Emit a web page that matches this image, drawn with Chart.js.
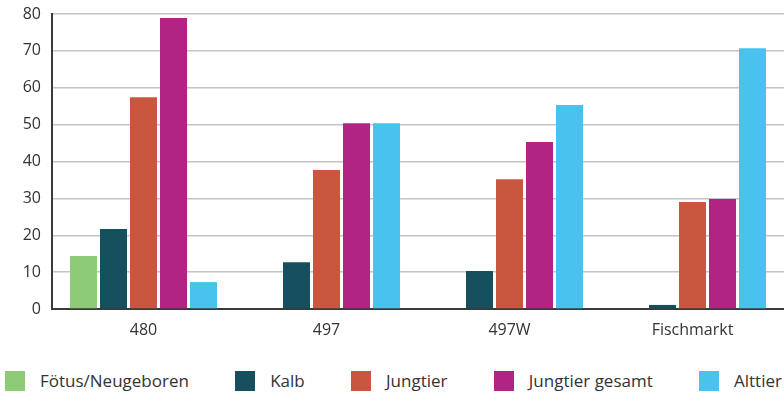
<!DOCTYPE html>
<html>
<head>
<meta charset="utf-8">
<script src="https://cdn.jsdelivr.net/npm/chart.js@4.4.1/dist/chart.umd.min.js"></script>
<style>
  html, body { margin: 0; padding: 0; background: #ffffff; }
  #wrap { position: relative; width: 784px; height: 394px; }
  #chart { position: absolute; left: 0; top: 0; }
  #legend {
    position: absolute; left: 5px; right: 2px; top: 369px;
    display: flex; justify-content: space-between; align-items: center;
    font-family: "Open Sans", sans-serif; font-size: 17px; color: #333;
  }
  .item { display: flex; align-items: center; }
  .box { width: 20px; height: 20px; margin-right: 15px; }
</style>
</head>
<body>
<div id="wrap">
  <canvas id="chart" width="784" height="345"></canvas>
  <div id="legend"></div>
</div>
<script>
const categories = ["480", "497", "497W", "Fischmarkt"];
const seriesNames = ["Fötus/Neugeboren", "Kalb", "Jungtier", "Jungtier gesamt", "Alttier"];
const foetus = [14.4, 0.2, 0.2, 0.2];
const kalb = [21.7, 12.7, 10.3, 1.1];
const jungtier = [57.4, 37.7, 35.2, 29.0];
const jungtierGesamt = [78.9, 50.4, 45.3, 29.8];
const alttier = [7.3, 50.4, 55.3, 70.7];
const yTicks = [0, 10, 20, 30, 40, 50, 60, 70, 80];
const colors = ["#8dcb76", "#16505e", "#c9573f", "#b12484", "#4ac2ee"];

const seriesValues = [foetus, kalb, jungtier, jungtierGesamt, alttier];

const chart = new Chart(document.getElementById("chart"), {
  type: "bar",
  data: {
    labels: categories,
    datasets: seriesNames.map((name, i) => ({
      label: name,
      data: seriesValues[i],
      backgroundColor: colors[i],
      borderWidth: 0,
      categoryPercentage: 0.82,
      barPercentage: 0.9
    }))
  },
  options: {
    responsive: false,
    animation: false,
    layout: { padding: { top: 14, right: 0, bottom: 0, left: 0 } },
    plugins: { legend: { display: false }, tooltip: { enabled: false } },
    scales: {
      x: {
        grid: { display: false },
        border: { display: true, color: "#3a3a3a", width: 2 },
        ticks: {
          color: "#333",
          font: { family: "Open Sans", size: 16 },
          padding: 4
        },
        afterFit(scale) {
          scale.height = 36;
          scale.paddingLeft = 0;
          scale.paddingRight = 0;
        }
      },
      y: {
        min: 0, max: 80,
        afterBuildTicks(scale) { scale.ticks = yTicks.map(v => ({ value: v })); },
        grid: { color: "#c4c4c4", lineWidth: 1.5, drawTicks: false },
        border: { display: true, color: "#3a3a3a", width: 2 },
        ticks: {
          color: "#333",
          font: { family: "Open Sans", size: 16 },
          padding: 11
        },
        afterFit(scale) {
          scale.width = 52;
          scale.paddingTop = 0;
          scale.paddingBottom = 0;
        }
      }
    }
  }
});

// legend row under the chart
const legend = document.getElementById("legend");
seriesNames.forEach((name, i) => {
  const item = document.createElement("div");
  item.className = "item";
  const box = document.createElement("span");
  box.className = "box";
  box.style.background = colors[i];
  const txt = document.createElement("span");
  txt.textContent = name;
  item.appendChild(box);
  item.appendChild(txt);
  legend.appendChild(item);
});
</script>
</body>
</html>
